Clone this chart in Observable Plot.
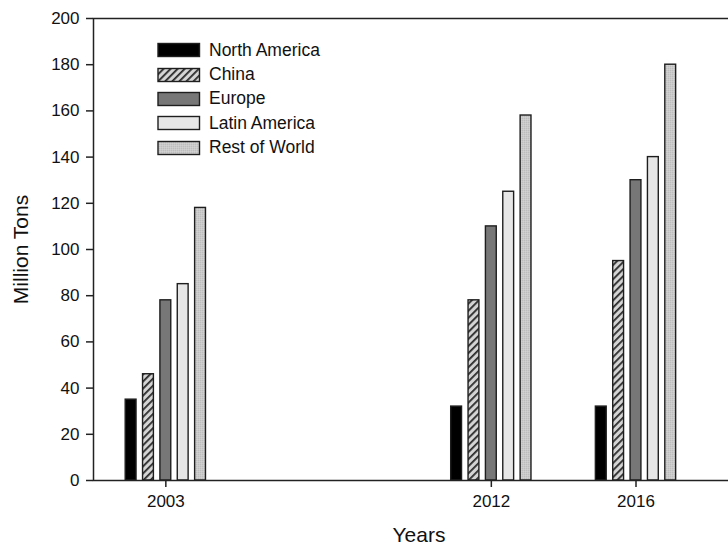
<!DOCTYPE html>
<html>
<head>
<meta charset="utf-8">
<script src="https://cdn.jsdelivr.net/npm/d3@7"></script>
<script src="https://cdn.jsdelivr.net/npm/@observablehq/plot@0.6"></script>
<style>
  html, body { margin: 0; padding: 0; background: #fff; }
  #wrap { position: relative; width: 728px; height: 545px; overflow: hidden; font-family: "Liberation Sans", Arial, sans-serif; }
  #legend { position: absolute; left: 157px; top: 38px; }
  .row { display: flex; align-items: center; height: 24.4px; }
  .row svg { display: block; margin-right: 8px; }
  .row span { font-size: 17.5px; color: #111; }
</style>
</head>
<body>
<svg width="0" height="0" style="position:absolute">
  <defs>
    <pattern id="hatch" patternUnits="userSpaceOnUse" width="5" height="5" patternTransform="rotate(45)">
      <rect width="5" height="5" fill="#d4d4d4"></rect>
      <rect x="0" y="0" width="1.8" height="5" fill="#2a2a2a"></rect>
    </pattern>
    <pattern id="stipple" patternUnits="userSpaceOnUse" width="2" height="2">
      <rect width="2" height="2" fill="#cacaca"></rect>
      <rect width="1" height="1" fill="#bdbdbd"></rect>
      <rect x="1" y="1" width="1" height="1" fill="#d2d2d2"></rect>
    </pattern>
  </defs>
</svg>
<div id="wrap"><div id="legend"></div></div>
<script>
// ---- data ----
const years = [2003, 2012, 2016];
const regions = ["North America", "China", "Europe", "Latin America", "Rest of World"];
const northAmerica = [35, 32, 32];
const china = [46, 78, 95];
const europe = [78, 110, 130];
const latinAmerica = [85, 125, 140];
const restOfWorld = [118, 158, 180];
const yTicks = [0, 20, 40, 60, 80, 100, 120, 140, 160, 180, 200];
const xTicks = years;

// ---- styles ----
const fills = {
  "North America": "#000000",
  "China": "url(#hatch)",
  "Europe": "#777777",
  "Latin America": "#e6e6e6",
  "Rest of World": "url(#stipple)"
};
const series = [northAmerica, china, europe, latinAmerica, restOfWorld];
const step = 0.48, half = 0.15;

const table = [];
years.forEach((yr, i) => {
  regions.forEach((r, k) => {
    table.push({year: yr, region: r, value: series[k][i], slot: k - 2});
  });
});

const chart = Plot.plot({
  width: 728,
  height: 545,
  marginLeft: 93,
  marginTop: 18,
  marginBottom: 65,
  marginRight: -16,
  style: {fontFamily: "'Liberation Sans', Arial, sans-serif", background: "transparent", overflow: "hidden"},
  x: {domain: [2001, 2019]},
  y: {domain: [0, 200]},
  marks: [
    Plot.rectY(table, {
      x1: d => d.year + d.slot * step - half,
      x2: d => d.year + d.slot * step + half,
      y1: 0,
      y2: "value",
      fill: d => fills[d.region],
      stroke: "#1e1e1e",
      strokeWidth: 1.4
    }),
    Plot.frame({stroke: "#222", strokeWidth: 1.5}),
    Plot.axisX({
      ticks: xTicks, tickFormat: d => String(d), tickSize: 7, tickPadding: 7,
      fontSize: 17, stroke: "#222", strokeWidth: 1.5, color: "#111",
      label: "Years", labelAnchor: "center", labelArrow: "none", labelOffset: 61
    }),
    Plot.axisY({
      ticks: yTicks, tickSize: 7, tickPadding: 7,
      fontSize: 17, stroke: "#222", strokeWidth: 1.5, color: "#111",
      label: "Million Tons", labelAnchor: "center", labelArrow: "none", labelOffset: 80
    })
  ]
});
chart.querySelectorAll("g[aria-label='x-axis label'], g[aria-label='y-axis label']").forEach(g => {
  g.setAttribute("font-size", "21");
  g.querySelectorAll("text").forEach(t => t.setAttribute("font-size", "21"));
});
document.getElementById("wrap").prepend(chart);

// ---- legend ----
const legend = document.getElementById("legend");
regions.forEach(r => {
  const row = document.createElement("div");
  row.className = "row";
  row.innerHTML = `<svg width="44" height="16"><rect x="1" y="1.5" width="41.5" height="13" fill="${fills[r]}" stroke="#1e1e1e" stroke-width="1.4"></rect></svg><span>${r}</span>`;
  legend.appendChild(row);
});
</script>
</body>
</html>
